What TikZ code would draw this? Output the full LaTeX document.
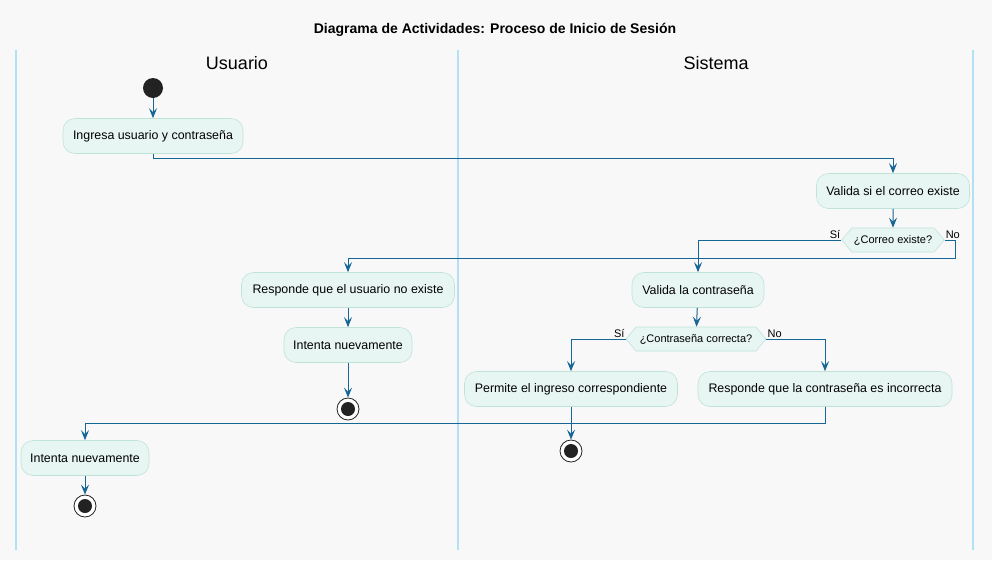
\documentclass[tikz,border=0pt]{standalone}
\usepackage{fontspec}
\setmainfont{Liberation Sans}
\usetikzlibrary{arrows.meta,shapes.symbols}
\definecolor{bgc}{RGB}{248,248,248}
\definecolor{lanec}{RGB}{179,224,245}
\definecolor{linec}{RGB}{22,102,150}
\definecolor{boxfill}{RGB}{232,246,243}
\definecolor{boxdraw}{RGB}{190,228,218}
\definecolor{dotc}{RGB}{34,34,34}
\tikzset{
  act/.style={draw=boxdraw, fill=boxfill, rounded corners=12pt, minimum height=35pt, inner xsep=0pt, font=\fontsize{12.4}{14}\selectfont, text=black, line width=0.6pt},
  dec/.style={draw=boxdraw, fill=boxfill, shape=signal, signal to=east and west, signal pointer angle=100, minimum height=24pt, inner ysep=1pt, inner xsep=2pt, font=\fontsize{11}{13}\selectfont, line width=0.6pt},
  startn/.style={circle, fill=dotc, minimum size=20pt, inner sep=0pt},
  endn/.style={circle, draw=dotc, fill=white, line width=0.8pt, minimum size=22pt, inner sep=0pt, path picture={\fill[dotc] (path picture bounding box.center) circle (7pt);}},
  arr/.style={draw=linec, line width=1pt, -{Stealth[length=10pt, width=8pt, inset=4pt]}},
  lane/.style={draw=lanec, line width=1.2pt},
  lbl/.style={font=\fontsize{11}{13}\selectfont, inner sep=1pt}
}
\begin{document}
\begin{tikzpicture}[x=1pt,y=-1pt]
\fill[bgc] (0,0) rectangle (992,560);
\useasboundingbox (0,0) rectangle (992,560);
\node[font=\bfseries\fontsize{14}{16}\selectfont] (title) at (495,30) {Diagrama de Actividades: Proceso de Inicio de Sesión};
\draw[lane] (16,50) -- (16,550);
\draw[lane] (458,50) -- (458,550);
\draw[lane] (973,50) -- (973,550);
\node[font=\fontsize{18}{20}\selectfont] (h1) at (237,63) {Usuario};
\node[font=\fontsize{18}{20}\selectfont] (h2) at (716,63) {Sistema};

\node[startn] (s) at (153,88) {};
\node[act, minimum width=180pt] (a1) at (153,136) {Ingresa usuario y contraseña};
\node[act, minimum width=153pt] (a2) at (893,191) {Valida si el correo existe};
\node[dec, minimum width=100pt] (d1) at (893,240) {¿Correo existe?};
\node[act, minimum width=132pt] (a3) at (698,290) {Valida la contraseña};
\node[act, minimum width=213pt] (a4) at (348,290) {Responde que el usuario no existe};
\node[act, minimum width=128pt] (a5) at (348,345) {Intenta nuevamente};
\node[endn] (e1) at (348,409) {};
\node[dec, minimum width=140pt] (d2) at (696,339) {¿Contraseña correcta?};
\node[act, minimum width=213pt] (a6) at (571,389) {Permite el ingreso correspondiente};
\node[act, minimum width=254pt] (a7) at (825,389) {Responde que la contraseña es incorrecta};
\node[endn] (e2) at (571,451) {};
\node[act, minimum width=128pt] (a8) at (85,458) {Intenta nuevamente};
\node[endn] (e3) at (85,506) {};
\coordinate (c1) at (955,258);

\draw[arr] (s) -- (a1);
\draw[arr] (a1.south) -- ([yshift=-5pt]a1.south) -| (a2.north);
\draw[arr] (a2) -- (d1);
\draw[arr] (d1.west) -| (a3.north);
\draw[arr] (d1.east) -| (c1) -| (a4.north);
\node[lbl, anchor=south east] (l1) at (d1.west) {Sí};
\node[lbl, anchor=south west] (l2) at (d1.east) {No};
\draw[arr] (a4) -- (a5);
\draw[arr] (a5) -- (e1);
\draw[arr] (a3) -- (d2);
\draw[arr] (d2.west) -| (a6.north);
\draw[arr] (d2.east) -| (a7.north);
\node[lbl, anchor=south east] (l3) at (d2.west) {Sí};
\node[lbl, anchor=south west] (l4) at (d2.east) {No};
\draw[arr] (a6) -- (e2);
\draw[arr] (a7.south) -- ([yshift=-17pt]a7.south) -| (a8.north);
\draw[arr] (a8) -- (e3);
\end{tikzpicture}
\end{document}
